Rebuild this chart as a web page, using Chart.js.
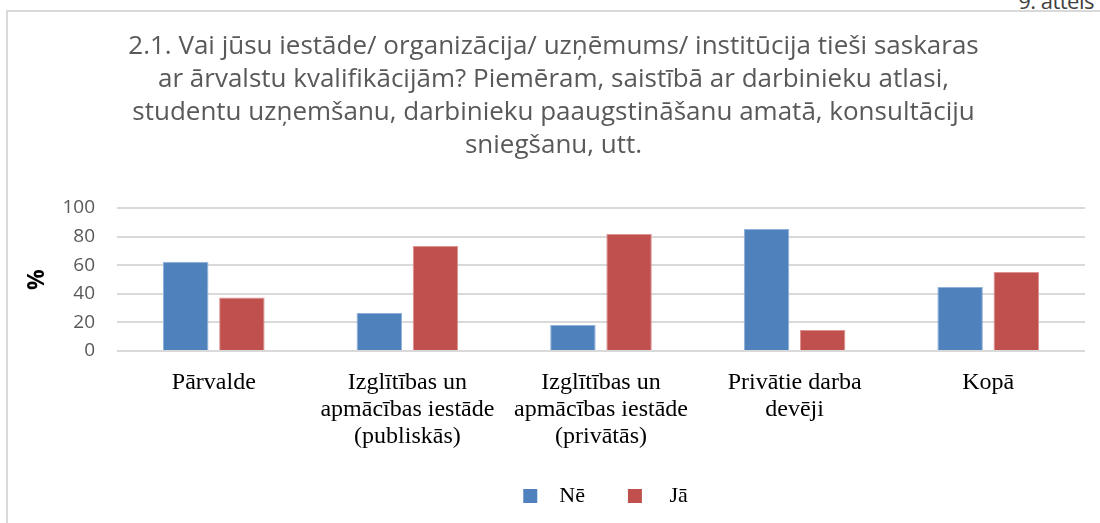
<!DOCTYPE html>
<html>
<head>
<meta charset="utf-8">
<script src="https://cdn.jsdelivr.net/npm/chart.js@4"></script>
<style>
  html, body { margin: 0; padding: 0; background: #fff; overflow: hidden; }
  #wrap { position: relative; width: 1100px; height: 523px; }
  #frame { position: absolute; left: 6px; top: 10px; right: -10px; bottom: -10px; border-left: 2px solid #d9d9d9; border-top: 2px solid #d9d9d9; }
  #fig { position: absolute; right: 6px; top: -15px; font: 22px "Open Sans", sans-serif; letter-spacing: -0.5px; color: #404040; }
  canvas { position: absolute; left: 0; top: 0; }
</style>
</head>
<body>
<div id="wrap">
  <div id="frame"></div>
  <div id="fig">9. attēls</div>
  <canvas id="chart" width="1100" height="523"></canvas>
</div>
<script>
const titleLines = [
  '2.1. Vai jūsu iestāde/ organizācija/ uzņēmums/ institūcija tieši saskaras',
  'ar ārvalstu kvalifikācijām? Piemēram, saistībā ar darbinieku atlasi,',
  'studentu uzņemšanu, darbinieku paaugstināšanu amatā, konsultāciju',
  'sniegšanu, utt.'
]
const categories = [
  ['Pārvalde'],
  ['Izglītības un', 'apmācības iestāde', '(publiskās)'],
  ['Izglītības un', 'apmācības iestāde', '(privātās)'],
  ['Privātie darba', 'devēji'],
  ['Kopā']
]
const seriesNames = ['Nē', 'Jā']
const neValues = [62.5, 26.6, 18.2, 85.3, 44.8]
const jaValues = [37.5, 73.4, 81.8, 14.7, 55.2]
const yTicks = [0, 20, 40, 60, 80, 100]

const blue = '#4f81bd'
const red = '#c0504d'

// shift the legend a bit to the right, like in the original figure
const legendShift = {
  id: 'legendShift',
  afterLayout(chart) {
    chart.legend.left += 52
    chart.legend.right += 52
  }
}

const ctx = document.getElementById('chart').getContext('2d')
new Chart(ctx, {
  type: 'bar',
  data: {
    labels: categories,
    datasets: [
      { label: seriesNames[0], data: neValues, backgroundColor: blue, borderColor: '#8fb0d8', borderWidth: 1 },
      { label: seriesNames[1], data: jaValues, backgroundColor: red, borderColor: '#dc9492', borderWidth: 1 }
    ]
  },
  options: {
    responsive: false,
    animation: false,
    layout: { padding: { top: 30, left: 22, right: 15, bottom: 6 } },
    datasets: {
      bar: { categoryPercentage: 0.58, barPercentage: 0.81 }
    },
    scales: {
      x: {
        grid: { display: false, drawTicks: false },
        border: { display: false },
        ticks: {
          color: '#000',
          padding: 18,
          maxRotation: 0,
          autoSkip: false,
          font: { family: '"Liberation Serif", serif', size: 24, lineHeight: 1.13 }
        },
        afterFit(scale) { scale.height = 124 }
      },
      y: {
        min: 0,
        max: 100,
        afterBuildTicks(scale) { scale.ticks = yTicks.map(v => ({ value: v })) },
        afterFit(scale) { scale.width = 95 },
        grid: { color: '#d9d9d9', lineWidth: 2, drawTicks: false },
        border: { display: false },
        ticks: {
          color: '#595959',
          padding: 22,
          font: { family: '"Open Sans", sans-serif', size: 19 }
        },
        title: {
          display: true,
          text: '%',
          color: '#000',
          padding: { top: 2, bottom: 0 },
          font: { family: '"Open Sans", sans-serif', size: 23, weight: 'bold' }
        }
      }
    },
    plugins: {
      title: {
        display: true,
        text: titleLines,
        color: '#595959',
        padding: { top: 0, bottom: 46 },
        font: { family: '"Open Sans", sans-serif', size: 26, weight: 'normal', lineHeight: 1.27 }
      },
      legend: {
        position: 'bottom',
        labels: {
          color: '#000',
          boxWidth: 14,
          boxHeight: 14,
          padding: 10,
          font: { family: '"Liberation Serif", serif', size: 22 },
          generateLabels(chart) {
            const items = Chart.defaults.plugins.legend.labels.generateLabels(chart)
            items.forEach((it, i) => {
              it.text = (i === 0 ? '  ' + it.text + '      ' : '   ' + it.text)
              it.lineWidth = 0
            })
            return items
          }
        }
      },
      tooltip: { enabled: false }
    }
  },
  plugins: [legendShift]
})
</script>
</body>
</html>
